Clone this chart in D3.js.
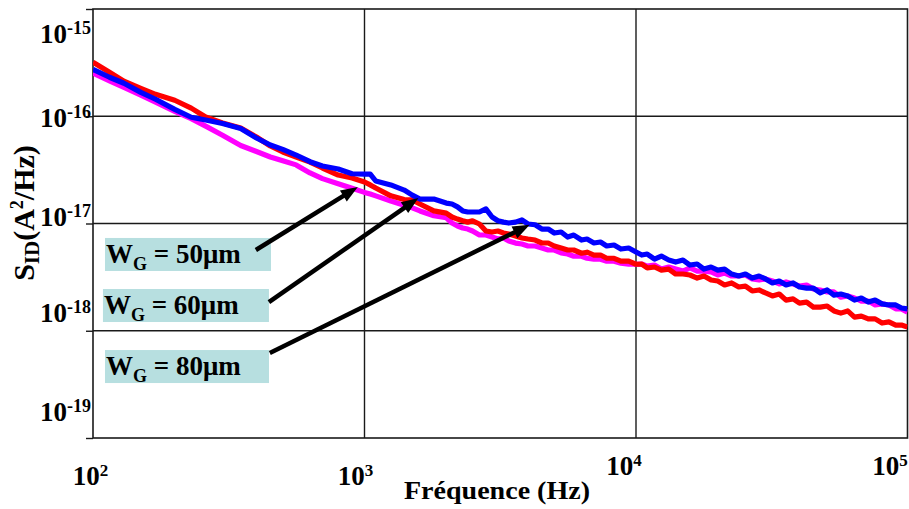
<!DOCTYPE html>
<html><head><meta charset="utf-8">
<script src="https://cdn.jsdelivr.net/npm/d3@7"></script>
<style>html,body{margin:0;padding:0;background:#fff;} svg{display:block;}</style>
</head><body>
<svg id="chart" width="909" height="509"></svg>
<script>
// ---------------- DATA ----------------
const frequencies = [100,115,130,150,170,200,230,260,300,350,400,450,500,560,630,700,800,900,1000,1050,1100,1250,1400,1500,1600,1800,2000,
2100,2200,2300,2400,2500,2650,2800,2950,3100,3250,3400,3600,3800,4000,4250,4500,4750,5000,5300,5600,5900,6300,6600,7000,7400,7800,8300,8800,9400,10000,
10500,11000,11700,12400,13200,14000,14900,15800,16800,17800,18900,20000,21200,22500,23900,25300,26800,28400,30000,31800,33700,35700,37900,40000,42500,45000,47700,50600,53600,56800,60200,63800,67600,71700,76000,80600,85400,90500,95000,100000];

// W_G = 50 µm (magenta)
const sidWG50 = [2.52e-16,2.14e-16,1.86e-16,1.57e-16,1.35e-16,1.11e-16,9.48e-17,8.09e-17,6.66e-17,5.34e-17,4.69e-17,4.17e-17,3.84e-17,3.52e-17,2.96e-17,2.62e-17,2.35e-17,2.13e-17,1.95e-17,1.88e-17,1.81e-17,1.62e-17,1.48e-17,1.40e-17,1.31e-17,1.18e-17,1.13e-17,
1.01e-17,9.47e-18,9.08e-18,8.88e-18,8.51e-18,7.81e-18,7.81e-18,7.47e-18,7.17e-18,7.32e-18,6.87e-18,6.57e-18,6.44e-18,6.17e-18,6.17e-18,5.91e-18,5.66e-18,5.66e-18,5.31e-18,5.19e-18,4.95e-18,4.95e-18,4.74e-18,4.64e-18,4.64e-18,4.45e-18,4.45e-18,4.26e-18,4.17e-18,4.17e-18,
4.19e-18,4.01e-18,4.10e-18,3.76e-18,3.93e-18,3.76e-18,3.60e-18,3.85e-18,3.60e-18,3.60e-18,3.53e-18,3.31e-18,3.45e-18,3.24e-18,3.24e-18,3.31e-18,3.04e-18,2.97e-18,3.04e-18,2.91e-18,2.73e-18,2.85e-18,2.73e-18,2.61e-18,2.67e-18,2.45e-18,2.40e-18,2.30e-18,2.30e-18,2.06e-18,2.11e-18,2.02e-18,1.89e-18,1.89e-18,1.74e-18,1.78e-18,1.74e-18,1.60e-18,1.60e-18,1.49e-18];

// W_G = 60 µm (red)
const sidWG60 = [3.19e-16,2.57e-16,2.12e-16,1.82e-16,1.60e-16,1.41e-16,1.19e-16,9.84e-17,8.65e-17,7.77e-17,6.40e-17,5.28e-17,4.64e-17,4.17e-17,3.74e-17,3.29e-17,2.83e-17,2.66e-17,2.44e-17,2.29e-17,2.14e-17,1.81e-17,1.67e-17,1.66e-17,1.52e-17,1.31e-17,1.25e-17,
1.15e-17,1.10e-17,1.06e-17,1.03e-17,1.06e-17,9.89e-18,8.51e-18,8.33e-18,8.51e-18,8.15e-18,7.98e-18,7.64e-18,7.33e-18,7.17e-18,7.01e-18,6.58e-18,6.58e-18,6.17e-18,5.91e-18,5.66e-18,5.66e-18,5.28e-18,5.40e-18,5.08e-18,5.08e-18,4.74e-18,4.74e-18,4.45e-18,4.45e-18,4.17e-18,
4.19e-18,3.85e-18,3.93e-18,3.68e-18,3.76e-18,3.38e-18,3.38e-18,3.31e-18,3.10e-18,3.24e-18,2.97e-18,2.91e-18,2.67e-18,2.79e-18,2.56e-18,2.61e-18,2.35e-18,2.40e-18,2.25e-18,2.11e-18,2.20e-18,1.93e-18,1.98e-18,1.81e-18,1.85e-18,1.66e-18,1.66e-18,1.70e-18,1.53e-18,1.46e-18,1.53e-18,1.34e-18,1.37e-18,1.29e-18,1.29e-18,1.18e-18,1.21e-18,1.13e-18,1.13e-18,1.08e-18];

// W_G = 80 µm (blue)
const sidWG80 = [2.74e-16,2.31e-16,2.03e-16,1.67e-16,1.44e-16,1.16e-16,9.79e-17,9.22e-17,8.56e-17,7.68e-17,6.27e-17,5.39e-17,4.91e-17,4.35e-17,3.77e-17,3.44e-17,3.22e-17,2.91e-17,2.89e-17,2.89e-17,2.49e-17,2.29e-17,2.05e-17,1.84e-17,1.69e-17,1.69e-17,1.55e-17,
1.52e-17,1.43e-17,1.31e-17,1.28e-17,1.28e-17,1.28e-17,1.37e-17,1.15e-17,1.06e-17,1.03e-17,1.01e-17,1.03e-17,1.08e-17,9.89e-18,9.73e-18,8.88e-18,8.88e-18,8.15e-18,8.33e-18,7.48e-18,7.80e-18,7.01e-18,7.17e-18,6.58e-18,6.72e-18,6.17e-18,6.30e-18,5.78e-18,5.91e-18,5.42e-18,
5.08e-18,5.19e-18,4.66e-18,4.97e-18,4.56e-18,4.37e-18,4.56e-18,4.10e-18,4.19e-18,3.76e-18,3.93e-18,3.68e-18,3.76e-18,3.38e-18,3.24e-18,3.38e-18,3.10e-18,3.24e-18,3.04e-18,2.79e-18,2.91e-18,2.67e-18,2.79e-18,2.56e-18,2.50e-18,2.50e-18,2.25e-18,2.40e-18,2.15e-18,2.20e-18,2.11e-18,1.93e-18,2.02e-18,1.85e-18,1.93e-18,1.78e-18,1.74e-18,1.74e-18,1.63e-18,1.60e-18];

const seriesLabels = ["50μm", "60μm", "80μm"];
const seriesColors = ["#ff00ff", "#ff0000", "#0000ff"];

const xTickExponents = [2, 3, 4, 5];
const yTickExponents = [-15, -16, -17, -18, -19];

// annotation anchors in data coordinates (frequency, S_ID)
const labelBoxAnchors = [[110.7, 7.33e-18], [108.8, 2.45e-18], [110.7, 6.61e-19]];
const arrowTails = [[398, 5.66e-18], [444.5, 1.85e-18], [448, 6.20e-19]];
const arrowTips = [[945, 2.19e-17], [1580, 1.73e-17], [4060, 9.73e-18]];

// ---------------- DRAW ----------------
const serif = "'Liberation Serif','Times New Roman',serif";
const svg = d3.select("#chart");
const x = d3.scaleLog().domain([1e2, 1e5]).range([93, 907.5]);
const y = d3.scaleLog().domain([1e-19, 1e-15]).range([438, 9]);

svg.append("rect").attr("width", 909).attr("height", 509).attr("fill", "#fff");

svg.append("defs").append("clipPath").attr("id", "plotclip")
  .append("rect").attr("x", x(1e2)).attr("y", y(1e-15))
  .attr("width", x(1e5) - x(1e2)).attr("height", y(1e-19) - y(1e-15));

// gridlines
const grid = svg.append("g");
grid.selectAll("line.v").data(xTickExponents.slice(1, -1)).join("line")
  .attr("x1", d => x(10 ** d)).attr("x2", d => x(10 ** d))
  .attr("y1", y(1e-15)).attr("y2", y(1e-19))
  .attr("stroke", "#1a1a1a").attr("stroke-width", 1.4);
grid.selectAll("line.h").data(yTickExponents.slice(1, -1)).join("line")
  .attr("y1", d => y(10 ** d)).attr("y2", d => y(10 ** d))
  .attr("x1", x(1e2)).attr("x2", x(1e5))
  .attr("stroke", "#1a1a1a").attr("stroke-width", 1.4);

// left axis ticks
const yAxis = d3.axisLeft(y).tickValues(yTickExponents.map(e => 10 ** e))
  .tickSize(7).tickSizeOuter(0).tickFormat("");
const ya = svg.append("g").attr("transform", `translate(${x(1e2)},0)`).call(yAxis);
ya.selectAll("line").attr("stroke", "#1a1a1a").attr("stroke-width", 1.4);
ya.select(".domain").remove();

// frame
svg.append("rect").attr("x", x(1e2)).attr("y", y(1e-15))
  .attr("width", x(1e5) - x(1e2)).attr("height", y(1e-19) - y(1e-15))
  .attr("fill", "none").attr("stroke", "#1a1a1a").attr("stroke-width", 1.6);

// curves
const seriesValues = [sidWG50, sidWG60, sidWG80];
const line = d3.line().x(d => x(d[0])).y(d => y(d[1]));
const curves = svg.append("g").attr("clip-path", "url(#plotclip)");
seriesValues.forEach((vals, i) => {
  curves.append("path")
    .datum(frequencies.map((f, j) => [f, vals[j]]))
    .attr("d", line).attr("fill", "none")
    .attr("stroke", seriesColors[i]).attr("stroke-width", 5.2)
    .attr("stroke-linejoin", "round").attr("stroke-linecap", "butt");
});

// y tick labels
const yLabelShift = [34, 11, 2, -9, -17];
const yl = svg.append("g").selectAll("text").data(yTickExponents).join("text")
  .attr("x", 91).attr("y", (d, i) => y(10 ** d) + yLabelShift[i])
  .attr("text-anchor", "end").attr("font-family", serif).attr("font-weight", "bold")
  .attr("fill", "#000");
yl.append("tspan").attr("font-size", 27).text("10");
yl.append("tspan").attr("font-size", 18).attr("dy", -9).text(d => String(d));

// x tick labels
const xLabelShift = [-2.5, -9, -12, -17.5];
const xLabelDrop = [47, 47, 37, 37];
const xl = svg.append("g").selectAll("text").data(xTickExponents).join("text")
  .attr("x", (d, i) => x(10 ** d) + xLabelShift[i]).attr("y", (d, i) => y(1e-19) + xLabelDrop[i])
  .attr("text-anchor", "middle").attr("font-family", serif).attr("font-weight", "bold")
  .attr("fill", "#000");
xl.append("tspan").attr("font-size", 27).text("10");
xl.append("tspan").attr("font-size", 17).attr("dy", -9).text(d => String(d));

// axis titles
svg.append("text").attr("x", 497).attr("y", 499).attr("text-anchor", "middle")
  .attr("font-family", serif).attr("font-weight", "bold").attr("font-size", 26)
  .attr("textLength", 186).attr("lengthAdjust", "spacingAndGlyphs")
  .text("Fréquence (Hz)");

const yt = svg.append("text").attr("transform", "translate(34,213) rotate(-90)")
  .attr("text-anchor", "middle").attr("font-family", serif).attr("font-weight", "bold")
  .attr("font-size", 30);
yt.append("tspan").text("S");
yt.append("tspan").attr("font-size", 21).attr("dy", 5).text("ID");
yt.append("tspan").attr("dy", -5).text("(A");
yt.append("tspan").attr("font-size", 18).attr("dy", -11).text("2");
yt.append("tspan").attr("dy", 11).text("/Hz)");

// label boxes
const boxes = svg.append("g");
labelBoxAnchors.forEach((a, i) => {
  const bx = x(a[0]), by = y(a[1]);
  boxes.append("rect").attr("x", bx).attr("y", by).attr("width", i === 2 ? 164 : 166).attr("height", 33)
    .attr("fill", "#b7dfe0");
  const t = boxes.append("text").attr("x", bx + 1).attr("y", by + 25)
    .attr("font-family", serif).attr("font-weight", "bold").attr("font-size", 27).attr("fill", "#000");
  t.append("tspan").text("W");
  t.append("tspan").attr("font-size", 18).attr("dy", 7).text("G");
  t.append("tspan").attr("dy", -7).text(" = " + seriesLabels[i]);
});

// arrows
const arrows = svg.append("g");
arrowTails.forEach((tl, i) => {
  const x0 = x(tl[0]), y0 = y(tl[1]);
  const x1 = x(arrowTips[i][0]), y1 = y(arrowTips[i][1]);
  const dx = x1 - x0, dy = y1 - y0, len = Math.hypot(dx, dy);
  const ux = dx / len, uy = dy / len;
  const hl = 17, hw = 6.5;
  const bxp = x1 - ux * hl, byp = y1 - uy * hl;
  arrows.append("line").attr("x1", x0).attr("y1", y0).attr("x2", bxp + ux * 2).attr("y2", byp + uy * 2)
    .attr("stroke", "#000").attr("stroke-width", 4.5);
  arrows.append("polygon").attr("points", [
    [x1, y1], [bxp - uy * hw, byp + ux * hw], [bxp + uy * hw, byp - ux * hw]
  ].map(p => p.join(",")).join(" ")).attr("fill", "#000");
});
</script>
</body></html>
